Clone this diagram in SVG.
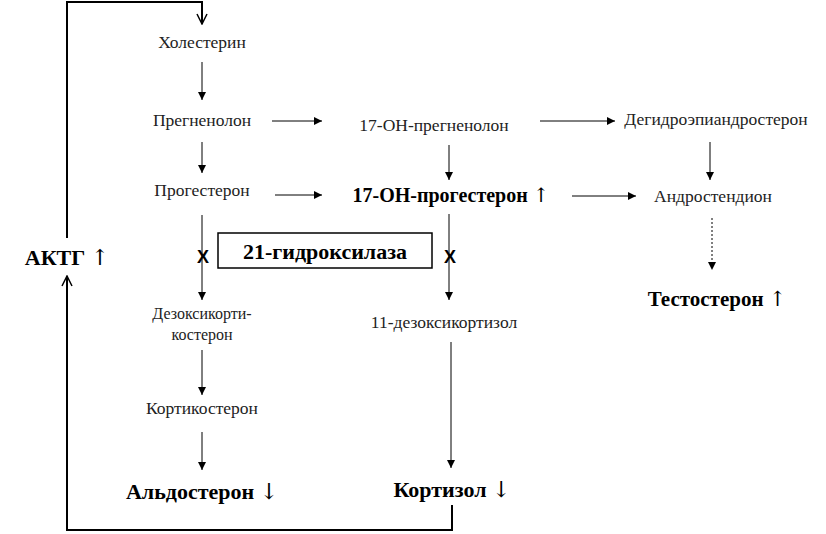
<svg xmlns="http://www.w3.org/2000/svg" width="826" height="534" viewBox="0 0 826 534">
<defs>
<marker id="a" viewBox="0 0 10 10" refX="10" refY="5" markerWidth="8" markerHeight="8" markerUnits="userSpaceOnUse" orient="auto"><path d="M0,0L10,5L0,10z" fill="#000"/></marker>
<marker id="o" viewBox="0 0 12 12" refX="11" refY="6" markerWidth="12" markerHeight="12" markerUnits="userSpaceOnUse" orient="auto"><path d="M1,1L11,6L1,11" fill="none" stroke="#000" stroke-width="1.5"/></marker>
<style>
.t{font-family:"Liberation Serif","Times New Roman",serif;font-size:17.5px;fill:#222;text-anchor:middle}
.b{font-family:"Liberation Serif","Times New Roman",serif;font-weight:bold;font-size:22px;fill:#000;text-anchor:middle}
.r{font-family:"DejaVu Serif",serif;fill:#000;font-weight:normal}
.x{font-family:"Liberation Sans",sans-serif;font-weight:bold;font-size:18px;text-anchor:middle}
.c{stroke:#000;stroke-width:1;fill:none;marker-end:url(#a)}
.f{stroke:#000;stroke-width:2;fill:none;marker-end:url(#o)}
</style>
</defs>
<rect width="826" height="534" fill="#fff"/>
<g id="connectors">
<path class="f" d="M67,238V2H202V24"/>
<path class="f" d="M452,505V530H67V276"/>
<path class="c" d="M202,62V100"/>
<path class="c" d="M202,142V173"/>
<path class="c" d="M202,215V300"/>
<path class="c" d="M202,350V395"/>
<path class="c" d="M202,432V470"/>
<path class="c" d="M272,121H322"/>
<path class="c" d="M275,195H322"/>
<path class="c" d="M449,145V180"/>
<path class="c" d="M449,214V300"/>
<path class="c" d="M451,342V468"/>
<path class="c" d="M540,121H615"/>
<path class="c" d="M710,142V180"/>
<path class="c" d="M572,196H636"/>
<path class="c" d="M712,218V270" stroke-dasharray="2,2"/>
</g>
<g id="n1"><text class="t" x="202" y="48">Холестерин</text></g>
<g id="n2"><text class="t" x="202" y="126">Прегненолон</text></g>
<g id="n3"><text class="t" x="202" y="196">Прогестерон</text></g>
<g id="n4"><text class="t" x="202" y="319" style="font-size:16px">Дезоксикорти-</text><text class="t" x="202" y="340" style="font-size:16px">костерон</text></g>
<g id="n5"><text class="t" x="202" y="414">Кортикостерон</text></g>
<g id="n6"><text class="b" x="202" y="499">Альдостерон <tspan class="r">↓</tspan></text></g>
<g id="n7"><text class="t" x="434" y="131">17-OH-прегненолон</text></g>
<g id="n8"><text class="b" x="451" y="202" style="font-size:20px">17-OH-прогестерон <tspan class="r">↑</tspan></text></g>
<g id="n9"><text class="t" x="444" y="328">11-дезоксикортизол</text></g>
<g id="n10"><text class="b" x="452" y="497">Кортизол <tspan class="r">↓</tspan></text></g>
<g id="n11"><text class="t" x="716" y="125">Дегидроэпиандростерон</text></g>
<g id="n12"><text class="t" x="713" y="202">Андростендион</text></g>
<g id="n13"><text class="b" x="717" y="306" style="font-size:21px">Тестостерон <tspan class="r">↑</tspan></text></g>
<g id="n14"><text class="b" x="67" y="265" style="font-size:22px">АКТГ <tspan class="r">↑</tspan></text></g>
<g id="enzyme"><rect x="218" y="233" width="214" height="35" fill="#fff" stroke="#000" stroke-width="1.5"/><text class="b" x="325" y="259" style="font-size:22px">21-гидроксилаза</text></g>
<g id="blocks"><text class="x" x="203" y="263">X</text><text class="x" x="450" y="263">X</text></g>
</svg>
